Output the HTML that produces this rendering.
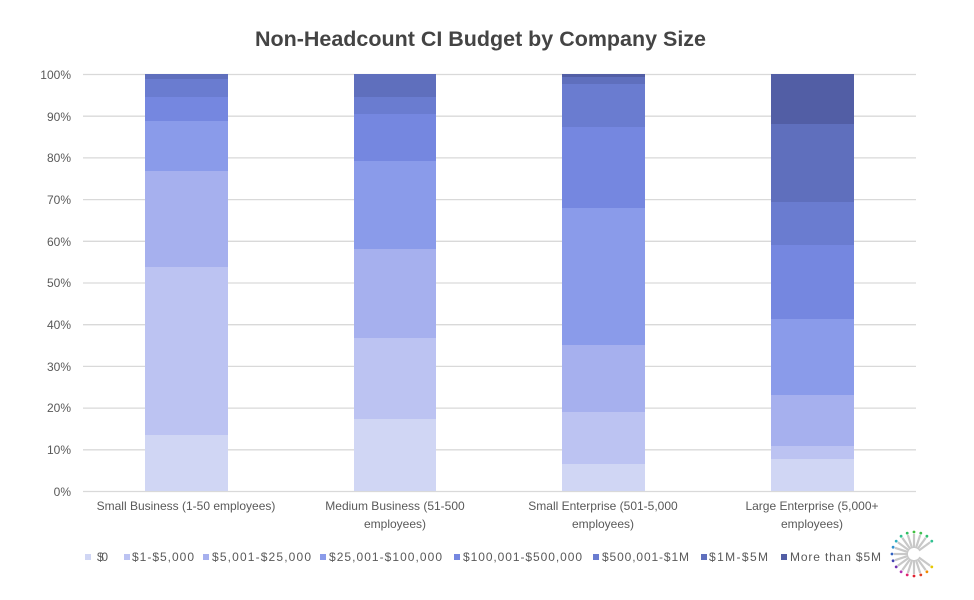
<!DOCTYPE html>
<html><head><meta charset="utf-8"><style>
html,body{margin:0;padding:0;background:#fff}
svg{display:block;font-family:"Liberation Sans",sans-serif}
</style></head><body>
<svg width="974" height="600" viewBox="0 0 974 600" xmlns="http://www.w3.org/2000/svg">
<text x="255" y="46" font-size="21" font-weight="bold" fill="#444" textLength="451" lengthAdjust="spacingAndGlyphs">Non-Headcount CI Budget by Company Size</text>
<g stroke="#d9d9d9" stroke-width="1.3">
<line x1="83" x2="916" y1="74.5" y2="74.5"/><line x1="83" x2="916" y1="116.2" y2="116.2"/><line x1="83" x2="916" y1="157.9" y2="157.9"/><line x1="83" x2="916" y1="199.6" y2="199.6"/><line x1="83" x2="916" y1="241.3" y2="241.3"/><line x1="83" x2="916" y1="283" y2="283"/><line x1="83" x2="916" y1="324.7" y2="324.7"/><line x1="83" x2="916" y1="366.4" y2="366.4"/><line x1="83" x2="916" y1="408.1" y2="408.1"/><line x1="83" x2="916" y1="449.8" y2="449.8"/><line x1="83" x2="916" y1="491.5" y2="491.5"/>
</g>
<g font-size="12" fill="#595959" text-anchor="end">
<text x="71" y="79">100%</text><text x="71" y="121">90%</text><text x="71" y="162">80%</text><text x="71" y="204">70%</text><text x="71" y="246">60%</text><text x="71" y="287">50%</text><text x="71" y="329">40%</text><text x="71" y="371">30%</text><text x="71" y="412">20%</text><text x="71" y="454">10%</text><text x="71" y="496">0%</text>
</g>
<g>
<rect x="145" y="435" width="83" height="56" fill="#d0d6f4"/>
<rect x="145" y="267" width="83" height="168" fill="#bcc3f2"/>
<rect x="145" y="171" width="83" height="96" fill="#a6b0ee"/>
<rect x="145" y="121" width="83" height="50" fill="#8a9bea"/>
<rect x="145" y="97" width="83" height="24" fill="#7587e0"/>
<rect x="145" y="79" width="83" height="18" fill="#6a7cd0"/>
<rect x="145" y="74" width="83" height="5" fill="#5f6fbd"/>
</g>
<g>
<rect x="354" y="419" width="82" height="72" fill="#d0d6f4"/>
<rect x="354" y="338" width="82" height="81" fill="#bcc3f2"/>
<rect x="354" y="249" width="82" height="89" fill="#a6b0ee"/>
<rect x="354" y="161" width="82" height="88" fill="#8a9bea"/>
<rect x="354" y="114" width="82" height="47" fill="#7587e0"/>
<rect x="354" y="97" width="82" height="17" fill="#6a7cd0"/>
<rect x="354" y="74" width="82" height="23" fill="#5f6fbd"/>
</g>
<g>
<rect x="562" y="464" width="83" height="27" fill="#d0d6f4"/>
<rect x="562" y="412" width="83" height="52" fill="#bcc3f2"/>
<rect x="562" y="345" width="83" height="67" fill="#a6b0ee"/>
<rect x="562" y="208" width="83" height="137" fill="#8a9bea"/>
<rect x="562" y="127" width="83" height="81" fill="#7587e0"/>
<rect x="562" y="84" width="83" height="43" fill="#6a7cd0"/>
<rect x="562" y="77" width="83" height="7" fill="#5f6fbd"/>
<rect x="562" y="74" width="83" height="3" fill="#525ea5"/>
</g>
<g>
<rect x="771" y="459" width="83" height="32" fill="#d0d6f4"/>
<rect x="771" y="446" width="83" height="13" fill="#bcc3f2"/>
<rect x="771" y="395" width="83" height="51" fill="#a6b0ee"/>
<rect x="771" y="319" width="83" height="76" fill="#8a9bea"/>
<rect x="771" y="245" width="83" height="74" fill="#7587e0"/>
<rect x="771" y="202" width="83" height="43" fill="#6a7cd0"/>
<rect x="771" y="124" width="83" height="78" fill="#5f6fbd"/>
<rect x="771" y="74" width="83" height="50" fill="#525ea5"/>
</g>
<g font-size="12" fill="#595959" text-anchor="middle">
<text x="186" y="510">Small Business (1-50 employees)</text>
<text x="395" y="510">Medium Business (51-500</text><text x="395" y="528">employees)</text>
<text x="603" y="510">Small Enterprise (501-5,000</text><text x="603" y="528">employees)</text>
<text x="812" y="510">Large Enterprise (5,000+</text><text x="812" y="528">employees)</text>
</g>
<g font-size="12" fill="#595959" lengthAdjust="spacingAndGlyphs">
<rect x="85" y="554" width="6" height="6" fill="#d0d6f4"/><text x="97" y="561" textLength="11">$0</text>
<rect x="124" y="554" width="6" height="6" fill="#bcc3f2"/><text x="132" y="561" textLength="62">$1-$5,000</text>
<rect x="203" y="554" width="6" height="6" fill="#a6b0ee"/><text x="212" y="561" textLength="99">$5,001-$25,000</text>
<rect x="320" y="554" width="6" height="6" fill="#8a9bea"/><text x="329" y="561" textLength="113">$25,001-$100,000</text>
<rect x="454" y="554" width="6" height="6" fill="#7587e0"/><text x="463" y="561" textLength="119">$100,001-$500,000</text>
<rect x="593" y="554" width="6" height="6" fill="#6a7cd0"/><text x="602" y="561" textLength="87">$500,001-$1M</text>
<rect x="701" y="554" width="6" height="6" fill="#5f6fbd"/><text x="709" y="561" textLength="59">$1M-$5M</text>
<rect x="781" y="554" width="6" height="6" fill="#525ea5"/><text x="790" y="561" textLength="91">More than $5M</text>
</g>
<g transform="translate(914,554)">
<g stroke="#c8c8c8" stroke-width="2.2">
<line x1="6" y1="0" x2="20" y2="0" transform="rotate(36)"/>
<line x1="6" y1="0" x2="20" y2="0" transform="rotate(54)"/>
<line x1="6" y1="0" x2="20" y2="0" transform="rotate(72)"/>
<line x1="6" y1="0" x2="20" y2="0" transform="rotate(90)"/>
<line x1="6" y1="0" x2="20" y2="0" transform="rotate(108)"/>
<line x1="6" y1="0" x2="20" y2="0" transform="rotate(126)"/>
<line x1="6" y1="0" x2="20" y2="0" transform="rotate(144)"/>
<line x1="6" y1="0" x2="20" y2="0" transform="rotate(162)"/>
<line x1="6" y1="0" x2="20" y2="0" transform="rotate(180)"/>
<line x1="6" y1="0" x2="20" y2="0" transform="rotate(198)"/>
<line x1="6" y1="0" x2="20" y2="0" transform="rotate(216)"/>
<line x1="6" y1="0" x2="20" y2="0" transform="rotate(234)"/>
<line x1="6" y1="0" x2="20" y2="0" transform="rotate(252)"/>
<line x1="6" y1="0" x2="20" y2="0" transform="rotate(270)"/>
<line x1="6" y1="0" x2="20" y2="0" transform="rotate(288)"/>
<line x1="6" y1="0" x2="20" y2="0" transform="rotate(306)"/>
<line x1="6" y1="0" x2="20" y2="0" transform="rotate(324)"/>
</g>
<g>
<circle cx="17.8" cy="12.9" r="1.4" fill="#e6c800"/>
<circle cx="12.9" cy="17.8" r="1.4" fill="#f08c00"/>
<circle cx="6.8" cy="20.9" r="1.4" fill="#e04020"/>
<circle cx="0" cy="22" r="1.4" fill="#e02030"/>
<circle cx="-6.8" cy="20.9" r="1.4" fill="#e02070"/>
<circle cx="-12.9" cy="17.8" r="1.4" fill="#b030b0"/>
<circle cx="-17.8" cy="12.9" r="1.4" fill="#7030b0"/>
<circle cx="-20.9" cy="6.8" r="1.4" fill="#4040b0"/>
<circle cx="-22" cy="0" r="1.4" fill="#3060c0"/>
<circle cx="-20.9" cy="-6.8" r="1.4" fill="#3090d0"/>
<circle cx="-17.8" cy="-12.9" r="1.4" fill="#30b0c0"/>
<circle cx="-12.9" cy="-17.8" r="1.4" fill="#30c090"/>
<circle cx="-6.8" cy="-20.9" r="1.4" fill="#30c060"/>
<circle cx="0" cy="-22" r="1.4" fill="#40c040"/>
<circle cx="6.8" cy="-20.9" r="1.4" fill="#40c050"/>
<circle cx="12.9" cy="-17.8" r="1.4" fill="#30c070"/>
<circle cx="17.8" cy="-12.9" r="1.4" fill="#30c090"/>
</g>
</g>
</svg>
</body></html>
